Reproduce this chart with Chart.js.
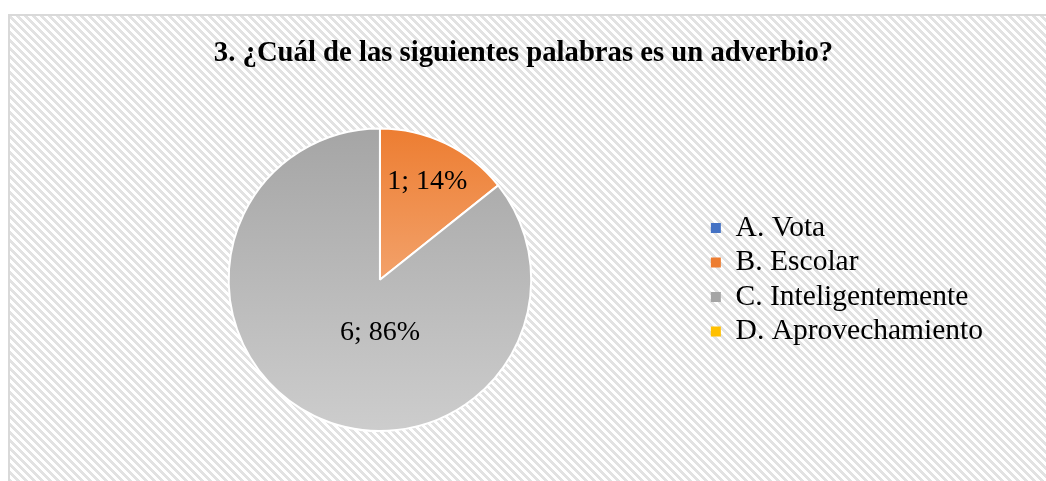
<!DOCTYPE html>
<html>
<head>
<meta charset="utf-8">
<script src="https://cdn.jsdelivr.net/npm/chart.js@4/dist/chart.umd.min.js"></script>
<style>
  html, body { margin: 0; padding: 0; background: #fff; }
  canvas { display: block; }
</style>
</head>
<body>
<canvas id="pieChart" width="1046" height="481"></canvas>
<script>
// Data
const titleText = "3. ¿Cuál de las siguientes palabras es un adverbio?";
const categories = ["A. Vota", "B. Escolar", "C. Inteligentemente", "D. Aprovechamiento"];
const counts = [0, 1, 6, 0];

// Colours (top / bottom of the gradient)
const topColors = ["#4472C4", "#ED7D31", "#A5A5A5", "#FFC000"];
const bottomColors = ["#9DB5E3", "#F8C6A4", "#CDCDCD", "#FFE08A"];

const serif = "'Liberation Serif', 'Times New Roman', serif";
const total = counts.reduce((a, b) => a + b, 0);

// Diagonal stripe pattern used as the chart background
function makePattern(ctx) {
    const tile = document.createElement("canvas");
    tile.width = 8;
    tile.height = 8;
    const t = tile.getContext("2d");
    t.fillStyle = "#ffffff";
    t.fillRect(0, 0, 8, 8);
    t.fillStyle = "#e2e2e2";
    for (let y = 0; y < 8; y++) {
        for (let x = 0; x < 8; x++) {
            if ((((x - y) % 8) + 8) % 8 < 4) t.fillRect(x, y, 1, 1);
        }
    }
    return ctx.createPattern(tile, "repeat");
}

const backgroundPlugin = {
    id: "stripedBackground",
    beforeDraw(chart) {
        const { ctx, width, height } = chart;
        ctx.save();
        ctx.fillStyle = "#ffffff";
        ctx.fillRect(0, 0, width, height);
        ctx.fillStyle = makePattern(ctx);
        ctx.fillRect(8, 14, width - 8, height - 14);
        ctx.strokeStyle = "#d9d9d9";
        ctx.lineWidth = 2;
        ctx.strokeRect(9, 15, width + 10, height + 10);
        ctx.restore();
    },
};

// "count; percent" labels inside the slices
const sliceLabelPlugin = {
    id: "sliceLabels",
    afterDatasetsDraw(chart) {
        const { ctx } = chart;
        const meta = chart.getDatasetMeta(0);
        ctx.save();
        ctx.font = "28px " + serif;
        ctx.fillStyle = "#000000";
        ctx.textAlign = "center";
        ctx.textBaseline = "middle";
        meta.data.forEach((arc, i) => {
            if (!counts[i]) return;
            const { x, y, startAngle, endAngle, outerRadius } = arc.getProps(
                ["x", "y", "startAngle", "endAngle", "outerRadius"], true);
            const span = endAngle - startAngle;
            let lx, ly;
            if (span > Math.PI) {
                lx = x;
                ly = y + outerRadius * 0.35;
            } else {
                const mid = (startAngle + endAngle) / 2;
                lx = x + Math.cos(mid) * outerRadius * 0.72;
                ly = y + Math.sin(mid) * outerRadius * 0.72;
            }
            const pct = Math.round((counts[i] / total) * 100);
            ctx.fillText(counts[i] + "; " + pct + "%", lx, ly);
        });
        ctx.restore();
    },
};

const gradientCache = {};
function sliceFill(context) {
    const i = context.dataIndex;
    const area = context.chart.chartArea;
    if (!area) return topColors[i];
    const key = i + ":" + area.top + ":" + area.bottom;
    if (!gradientCache[key]) {
        const g = context.chart.ctx.createLinearGradient(0, area.top, 0, area.bottom);
        g.addColorStop(0, topColors[i]);
        g.addColorStop(1, bottomColors[i]);
        gradientCache[key] = g;
    }
    return gradientCache[key];
}

const config = {
    type: "pie",
    data: {
        labels: categories,
        datasets: [
            {
                data: counts,
                backgroundColor: sliceFill,
                borderColor: "#ffffff",
                borderWidth: 2,
            },
        ],
    },
    options: {
        responsive: false,
        animation: false,
        layout: {
            padding: { left: 54, right: 53, top: 0, bottom: 49 },
        },
        plugins: {
            title: {
                display: true,
                text: titleText,
                color: "#000000",
                font: { family: serif, size: 28.7, weight: "bold" },
                padding: { top: 36, bottom: 57 },
            },
            legend: {
                display: true,
                position: "right",
                fullSize: false,
                labels: {
                    color: "#000000",
                    font: { family: serif, size: 29.5 },
                    boxWidth: 10,
                    boxHeight: 10,
                    padding: 5,
                    generateLabels(chart) {
                        return categories.map((label, i) => ({
                            text: label,
                            fillStyle: topColors[i],
                            strokeStyle: topColors[i],
                            lineWidth: 0,
                            hidden: false,
                            index: i,
                        }));
                    },
                },
            },
            tooltip: { enabled: false },
        },
    },
    plugins: [backgroundPlugin, sliceLabelPlugin],
};

const ctx = document.getElementById("pieChart").getContext("2d");
new Chart(ctx, config);
</script>
</body>
</html>
